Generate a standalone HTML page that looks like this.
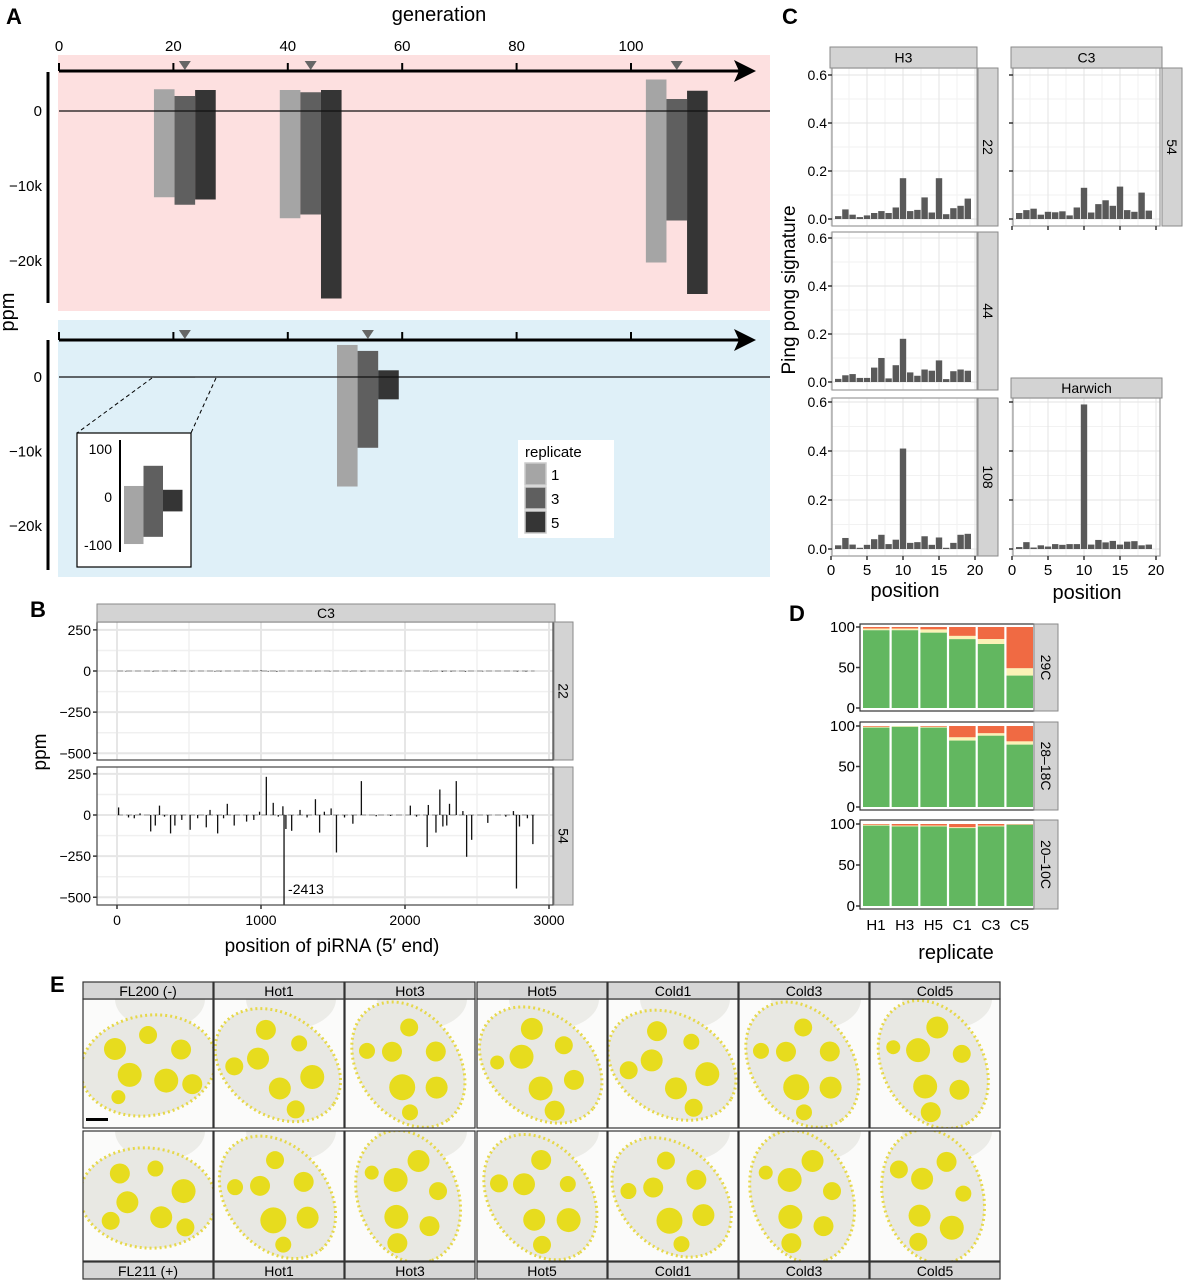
<!DOCTYPE html>
<html><head><meta charset="utf-8"><title>Figure</title>
<style>
html,body{margin:0;padding:0;background:#fff;}
svg{display:block;font-family:"Liberation Sans",sans-serif;}
</style></head>
<body>
<svg id="fig" width="1183" height="1280" viewBox="0 0 1183 1280" xmlns="http://www.w3.org/2000/svg">
<defs><clipPath id="clipB2"><rect x="97" y="767" width="456" height="138"/></clipPath></defs>
<text x="6" y="24" font-size="22" font-weight="bold">A</text>
<text x="30" y="617" font-size="22" font-weight="bold">B</text>
<text x="782" y="24" font-size="22" font-weight="bold">C</text>
<text x="789" y="621" font-size="22" font-weight="bold">D</text>
<text x="50" y="992" font-size="22" font-weight="bold">E</text>
<g id="gA"></g>
<g id="gB"></g>
<g id="gC"></g>
<g id="gD"></g>
<g id="gE"></g>
</svg>
<script>
// ---------- Panel A data (values in thousands of ppm) ----------
const aTopGens = [22, 44, 108];
const aTopR1Hi = [2.9, 2.8, 4.2];
const aTopR1Lo = [-11.5, -14.3, -20.2];
const aTopR3Hi = [2.0, 2.5, 1.6];
const aTopR3Lo = [-12.5, -13.8, -14.6];
const aTopR5Hi = [2.8, 2.8, 2.7];
const aTopR5Lo = [-11.8, -25.0, -24.4];
const aBotGens = [22, 54];
const aBotR1Hi = [0.023, 4.3];
const aBotR1Lo = [-0.098, -14.7];
const aBotR3Hi = [0.065, 3.5];
const aBotR3Lo = [-0.083, -9.5];
const aBotR5Hi = [0.015, 0.9];
const aBotR5Lo = [-0.03, -3.0];
const insetHi = [23, 65, 15];
const insetLo = [-98, -83, -30];
const genTicks = [0, 20, 40, 60, 80, 100];
const ppmTicksK = [0, -10, -20];
const ppmTickLabels = ["0", "\u221210k", "\u221220k"];
const insetTicks = [100, 0, -100];
const replicateNames = ["1", "3", "5"];
// ---------- Panel C data ----------
const positions = [1,2,3,4,5,6,7,8,9,10,11,12,13,14,15,16,17,18,19];
const h3g22 = [0.012,0.04,0.018,0.008,0.015,0.025,0.033,0.025,0.048,0.17,0.033,0.038,0.09,0.027,0.17,0.02,0.045,0.055,0.085];
const h3g44 = [0.013,0.028,0.033,0.017,0.017,0.06,0.1,0.015,0.07,0.18,0.04,0.026,0.052,0.047,0.09,0.012,0.045,0.052,0.047];
const h3g108 = [0.015,0.045,0.018,0.005,0.017,0.04,0.058,0.02,0.038,0.41,0.025,0.028,0.052,0.017,0.047,0.005,0.025,0.058,0.062];
const c3g54 = [0.025,0.037,0.043,0.018,0.03,0.028,0.032,0.015,0.048,0.13,0.027,0.062,0.078,0.055,0.135,0.037,0.03,0.11,0.035];
const harwich = [0.008,0.028,0.006,0.015,0.01,0.02,0.017,0.02,0.02,0.59,0.018,0.037,0.027,0.033,0.018,0.03,0.032,0.015,0.018];
const pingTicks = [0, 0.2, 0.4, 0.6];
const posTicks = [0, 5, 10, 15, 20];
// ---------- Panel B data ----------
const bPos22 = [60,250,400,520,680,720,1000,1050,1110,1380,1480,1620,1700,2180,2260,2320,2420,2540,2780,2840];
const bVal22 = [-2,-3,3,-2,-3,-2,4,-3,-4,-2,-2,-2,-2,-3,-4,-3,-4,-2,-3,-3];
const bPos54 = [11,80,120,160,234,266,295,330,372,402,450,508,560,620,646,699,740,766,814,900,950,990,1037,1085,1120,1152,1160,1173,1213,1271,1320,1378,1407,1440,1487,1524,1580,1638,1697,1800,1900,2037,2080,2154,2162,2215,2242,2263,2290,2309,2356,2402,2428,2463,2575,2700,2753,2774,2795,2850,2888];
const bVal54 = [46,-15,-20,10,-100,-64,57,-10,-112,-64,-30,-90,-20,-75,31,-112,-20,68,-64,-40,-30,20,232,74,-10,53,-545,-85,-96,31,-15,96,-107,20,40,-228,-15,-53,206,-8,-6,57,-10,-195,61,-107,155,-70,-64,68,206,24,-254,-151,-48,-10,24,-447,-70,-20,-177];
const bYTicks = [250, 0, -250, -500];
const bXTicks = [0, 1000, 2000, 3000];
// ---------- Panel D data ----------
const dReplicates = ["H1","H3","H5","C1","C3","C5"];
const dGreen29 = [96,96,93,85,79,40];
const dYellow29 = [2,2,4,4,6,9];
const dGreen28 = [98,99,98,82,88,77];
const dYellow28 = [1,1,1,4,3,4];
const dGreen20 = [98,97,97,95,97,99];
const dYellow20 = [1,1,1,1,1,0.5];
const dTicks = [0, 50, 100];
// ---------- Panel E ----------
const eTopLabels = ["FL200 (-)","Hot1","Hot3","Hot5","Cold1","Cold3","Cold5"];
const eBotLabels = ["FL211 (+)","Hot1","Hot3","Hot5","Cold1","Cold3","Cold5"];

const NS = 'http://www.w3.org/2000/svg';
function mk(tag, parent, attrs, txt){
  const e = document.createElementNS(NS, tag);
  for (const k in attrs) e.setAttribute(k, attrs[k]);
  if (txt !== undefined) e.textContent = txt;
  parent.appendChild(e);
  return e;
}
const gA = document.getElementById('gA');
const gB = document.getElementById('gB');
const gC = document.getElementById('gC');
const gD = document.getElementById('gD');
const gE = document.getElementById('gE');
const repColors = ['#a5a5a5','#5f5f5f','#353535'];

// ================= Panel A =================
const xA = g => 59 + 5.72 * g;
const yAt = v => 111 - 7.5 * v;
const yAb = v => 377 - 7.45 * v;
let t;
t = mk('rect', gA, {x:58,y:55,width:712,height:256,fill:'#fde0e0'});


t = mk('rect', gA, {x:58,y:320,width:712,height:257,fill:'#dff0f8'});


t = mk('text', gA, {x:439,y:21,'font-size':20,'text-anchor':'middle'}, 'generation');


genTicks.forEach(g => {
  t = mk('text', gA, {x:xA(g),y:51,'font-size':15,'text-anchor':'middle'}, String(g));
  
  
});
[71, 340].forEach((ay, idx) => {
  t = mk('line', gA, {x1:59,y1:ay,x2:740,y2:ay,stroke:'#000','stroke-width':3});
  
  
  t = mk('polygon', gA, {points:`734,${ay-11} 756,${ay} 734,${ay+11} 739,${ay}`,fill:'#000'});
  
  
  genTicks.forEach(g => {
    t = mk('line', gA, {x1:xA(g),y1:ay-8,x2:xA(g),y2:ay,stroke:'#000','stroke-width':2});
    
    
  });
});
function tri(g, ay){
  const x = xA(g);
  t = mk('polygon', gA, {points:`${x-6},${ay-10} ${x+6},${ay-10} ${x},${ay-1}`,fill:'#666'});
  
  
}
aTopGens.forEach(g => tri(g, 71));
aBotGens.forEach(g => tri(g, 340));
[[72,303],[340,570]].forEach(r => {
  t = mk('line', gA, {x1:48,y1:r[0],x2:48,y2:r[1],stroke:'#000','stroke-width':3});
  
  
});
ppmTicksK.forEach((v, i) => {
  t = mk('text', gA, {x:42,y:yAt(v)+5,'font-size':15,'text-anchor':'end'}, ppmTickLabels[i]);
  
  
  t = mk('text', gA, {x:42,y:yAb(v)+5,'font-size':15,'text-anchor':'end'}, ppmTickLabels[i]);
  
  
});
t = mk('text', gA, {x:0,y:0,'font-size':20,'text-anchor':'middle',transform:'translate(14,312) rotate(-90)'}, 'ppm');


const bw = 3.6;
function drawA(gens, his, los, yf, r){
  gens.forEach((g, i) => {
    const x = xA(g + (r - 1.5) * bw);
    const y1 = yf(his[i]), y2 = yf(los[i]);
    t = mk('rect', gA, {x:x,y:y1,width:5.72*bw,height:Math.max(0.5,y2-y1),fill:repColors[r]});
    
    
  });
}
drawA(aTopGens, aTopR1Hi, aTopR1Lo, yAt, 0);
drawA(aTopGens, aTopR3Hi, aTopR3Lo, yAt, 1);
drawA(aTopGens, aTopR5Hi, aTopR5Lo, yAt, 2);
drawA(aBotGens, aBotR1Hi, aBotR1Lo, yAb, 0);
drawA(aBotGens, aBotR3Hi, aBotR3Lo, yAb, 1);
drawA(aBotGens, aBotR5Hi, aBotR5Lo, yAb, 2);
t = mk('line', gA, {x1:59,y1:yAt(0),x2:770,y2:yAt(0),stroke:'#111','stroke-width':1.2});


t = mk('line', gA, {x1:59,y1:yAb(0),x2:770,y2:yAb(0),stroke:'#111','stroke-width':1.2});


t = mk('line', gA, {x1:152,y1:378,x2:77,y2:433,stroke:'#000','stroke-dasharray':'4,3'});


t = mk('line', gA, {x1:216,y1:378,x2:191,y2:433,stroke:'#000','stroke-dasharray':'4,3'});


t = mk('rect', gA, {x:77,y:433,width:114,height:134,fill:'#fff',stroke:'#000','stroke-width':1.2});


const yIn = v => 497 - 0.48 * v;
t = mk('line', gA, {x1:120,y1:440,x2:120,y2:552,stroke:'#000','stroke-width':2});


insetTicks.forEach(v => {
  t = mk('text', gA, {x:112,y:yIn(v)+5,'font-size':14,'text-anchor':'end'}, String(v));
  
  
});
insetHi.forEach((h, i) => {
  t = mk('rect', gA, {x:124+19.5*i,y:yIn(h),width:19.5,height:yIn(insetLo[i])-yIn(h),fill:repColors[i]});
  
  
});
t = mk('rect', gA, {x:518,y:440,width:96,height:98,fill:'#fff'});


t = mk('text', gA, {x:525,y:457,'font-size':15}, 'replicate');


replicateNames.forEach((n, i) => {
  t = mk('rect', gA, {x:525,y:463+24*i,width:21,height:22,fill:repColors[i],stroke:'#ccc','stroke-width':1.5});
  
  
  t = mk('text', gA, {x:551,y:480+24*i,'font-size':15}, n);
  
  
});

// ================= Panel C =================
function strip(parent, x, y, w, h, label, vertical){
  t = mk('rect', parent, {x:x,y:y,width:w,height:h,fill:'#d3d3d3',stroke:'#8a8a8a','stroke-width':1});
  
  
  if (vertical) {
    t = mk('text', parent, {x:0,y:0,'font-size':14,'text-anchor':'middle',transform:`translate(${x+w/2-5},${y+h/2}) rotate(90)`}, label);
  } else {
    t = mk('text', parent, {x:x+w/2,y:y+h/2+5,'font-size':14,'text-anchor':'middle'}, label);
  }
  
  
}
function pingPanel(px, py, pw, ph, y0, y6, vals, showX, showXTicks){
  const xs = p => px - 1 + 7.2 * p;
  const ys = v => y0 - (y0 - y6) * v / 0.6;
  t = mk('rect', gC, {x:px,y:py,width:pw,height:ph,fill:'#fff'});
  
  
  [0.1,0.3,0.5].forEach(v => { t = mk('line', gC, {x1:px,x2:px+pw,y1:ys(v),y2:ys(v),stroke:'#f2f2f2'});   });
  [2.5,7.5,12.5,17.5].forEach(p => { t = mk('line', gC, {x1:xs(p),x2:xs(p),y1:py,y2:py+ph,stroke:'#f2f2f2'});   });
  pingTicks.forEach(v => { t = mk('line', gC, {x1:px,x2:px+pw,y1:ys(v),y2:ys(v),stroke:'#e3e3e3'});   });
  posTicks.forEach(p => { t = mk('line', gC, {x1:xs(p),x2:xs(p),y1:py,y2:py+ph,stroke:'#e3e3e3'});   });
  positions.forEach((p, i) => {
    t = mk('rect', gC, {x:xs(p)-3.2,y:ys(vals[i]),width:6.4,height:ys(0)-ys(vals[i]),fill:'#595959'});
    
    
  });
  t = mk('rect', gC, {x:px,y:py,width:pw,height:ph,fill:'none',stroke:'#9a9a9a','stroke-width':1.2});
  
  
  pingTicks.forEach(v => {
    t = mk('line', gC, {x1:px-4,x2:px,y1:ys(v),y2:ys(v),stroke:'#333','stroke-width':1.5});
    
    
    if (px < 900) {
      t = mk('text', gC, {x:px-5,y:ys(v)+5,'font-size':14,'text-anchor':'end'}, v.toFixed(1));
      
      
    }
  });
  if (showXTicks) posTicks.forEach(p => {
    t = mk('line', gC, {x1:xs(p),x2:xs(p),y1:py+ph,y2:py+ph+4,stroke:'#333','stroke-width':1.5});
    
    
    if (showX) {
      t = mk('text', gC, {x:xs(p),y:py+ph+19,'font-size':15,'text-anchor':'middle'}, String(p));
      
      
    }
  });
}
pingPanel(832, 68, 145, 158, 219, 75, h3g22, false, false);
pingPanel(832, 232, 145, 158, 382, 238, h3g44, false, false);
pingPanel(832, 398, 145, 158, 549, 402, h3g108, true, true);
pingPanel(1013, 68, 147, 158, 219, 75, c3g54, false, true);
pingPanel(1013, 398, 147, 158, 549, 402, harwich, true, true);
strip(gC, 830, 47, 147, 21, 'H3', false);
strip(gC, 1011, 47, 151, 21, 'C3', false);
strip(gC, 1011, 378, 151, 20, 'Harwich', false);
strip(gC, 978, 68, 20, 158, '22', true);
strip(gC, 978, 232, 20, 158, '44', true);
strip(gC, 978, 398, 20, 158, '108', true);
strip(gC, 1162, 68, 20, 158, '54', true);
t = mk('text', gC, {x:0,y:0,'font-size':19,'text-anchor':'middle',transform:'translate(795,290) rotate(-90)'}, 'Ping pong signature');


t = mk('text', gC, {x:905,y:597,'font-size':20,'text-anchor':'middle'}, 'position');


t = mk('text', gC, {x:1087,y:599,'font-size':20,'text-anchor':'middle'}, 'position');



// ================= Panel B =================
const xB = p => 117 + 0.1440 * p;
function bPanel(py, y0, pos, vals, clip){
  const yb = v => y0 - 0.1645 * v;
  t = mk('rect', gB, {x:97,y:py,width:456,height:138,fill:'#fff'});
  
  
  [125,-125,-375].forEach(v => { t = mk('line', gB, {x1:97,x2:553,y1:yb(v),y2:yb(v),stroke:'#f0f0f0','stroke-width':1.5});   });
  [500,1500,2500].forEach(p => { t = mk('line', gB, {x1:xB(p),x2:xB(p),y1:py,y2:py+138,stroke:'#f0f0f0','stroke-width':1.5});   });
  bYTicks.forEach(v => {
    t = mk('line', gB, {x1:97,x2:553,y1:yb(v),y2:yb(v),stroke:'#e6e6e6','stroke-width':2});
    
    
    t = mk('line', gB, {x1:93,x2:97,y1:yb(v),y2:yb(v),stroke:'#333','stroke-width':1.5});
    
    
    t = mk('text', gB, {x:91,y:yb(v)+5,'font-size':14,'text-anchor':'end'}, v < 0 ? '\u2212' + (-v) : String(v));
    
    
  });
  bXTicks.forEach(p => { t = mk('line', gB, {x1:xB(p),x2:xB(p),y1:py,y2:py+138,stroke:'#e6e6e6','stroke-width':2});   });
  const g = mk('g', gB, clip ? {'clip-path':'url(#clipB2)'} : {});
  
  
  t = mk('line', g, {x1:xB(0),x2:xB(2900),y1:y0,y2:y0,stroke:'#555','stroke-width':0.6,'stroke-dasharray':'6,3'});
  
  
  pos.forEach((p, i) => {
    t = mk('line', g, {x1:xB(p),x2:xB(p),y1:y0,y2:yb(vals[i]),stroke:'#111','stroke-width':1.3});
    
    
  });
  t = mk('rect', gB, {x:97,y:py,width:456,height:138,fill:'none',stroke:'#444','stroke-width':1.2});
  
  
}
bPanel(622, 671, bPos22, bVal22, false);
bPanel(767, 815, bPos54, bVal54, true);
strip(gB, 97, 604, 458, 18, 'C3', false);
strip(gB, 554, 622, 19, 138, '22', true);
strip(gB, 554, 767, 19, 138, '54', true);
t = mk('text', gB, {x:xB(1160)+4,y:894,'font-size':14}, '-2413');


bXTicks.forEach(p => {
  t = mk('line', gB, {x1:xB(p),x2:xB(p),y1:905,y2:909,stroke:'#333','stroke-width':1.5});
  
  
  t = mk('text', gB, {x:xB(p),y:925,'font-size':14,'text-anchor':'middle'}, String(p));
  
  
});
t = mk('text', gB, {x:0,y:0,'font-size':19,'text-anchor':'middle',transform:'translate(46,752) rotate(-90)'}, 'ppm');


t = mk('text', gB, {x:332,y:952,'font-size':19,'text-anchor':'middle'}, 'position of piRNA (5\u2032 end)');



// ================= Panel D =================
const xD = i => 862 + 28.7 * i;
function dPanel(py, y0, y100, greens, yellows, label){
  const yd = v => y0 - (y0 - y100) * v / 100;
  t = mk('rect', gD, {x:860,y:py,width:174,height:y0-py+3,fill:'#fff',stroke:'#333','stroke-width':1.2});
  
  
  dReplicates.forEach((r, i) => {
    const x = xD(i) + 1, w = 26.5;
    const gTop = yd(greens[i]), yTop = yd(greens[i] + yellows[i]);
    t = mk('rect', gD, {x:x,y:yd(100),width:w,height:yTop-yd(100),fill:'#f06a43'});
    
    
    t = mk('rect', gD, {x:x,y:yTop,width:w,height:gTop-yTop,fill:'#fbf2b6'});
    
    
    t = mk('rect', gD, {x:x,y:gTop,width:w,height:y0-gTop,fill:'#62b760'});
    
    
  });
  dTicks.forEach(v => {
    t = mk('line', gD, {x1:856,x2:860,y1:yd(v),y2:yd(v),stroke:'#333','stroke-width':1.5});
    
    
    t = mk('text', gD, {x:855,y:yd(v)+5,'font-size':15,'text-anchor':'end'}, String(v));
    
    
  });
  strip(gD, 1034, py, 24, y0-py+3, label, true);
}
dPanel(624, 708, 627, dGreen29, dYellow29, '29C');
dPanel(722, 807, 726, dGreen28, dYellow28, '28\u201318C');
dPanel(820, 906, 824, dGreen20, dYellow20, '20\u201310C');
dReplicates.forEach((r, i) => {
  t = mk('text', gD, {x:xD(i)+14,y:930,'font-size':15,'text-anchor':'middle'}, r);
  
  
});
t = mk('text', gD, {x:956,y:959,'font-size':20,'text-anchor':'middle'}, 'replicate');



// ================= Panel E =================
const eX = [83,214,345,477,608,739,870];
const eW = 130;
const nuclei = [[-30,-25,11],[5,-35,10],[35,-10,12],[-20,10,12],[15,25,13],[-35,35,9],[40,35,10]];
eTopLabels.forEach((lab, c) => {
  [[999,129],[1131,130]].forEach((row, r) => {
    const x = eX[c], y = row[0], h = row[1];
    const cid = 'ce' + c + '_' + r;
    const cp = mk('clipPath', gE, {id:cid});
    mk('rect', cp, {x:x,y:y,width:eW,height:h});
    const g = mk('g', gE, {'clip-path':`url(#${cid})`});
    
    
    mk('rect', g, {x:x,y:y,width:eW,height:h,fill:'#fbfbfa'});
    const cx = x + eW/2, cy = y + h/2;
    const rot = [-10,35,55,40,30,55,60][c] + r*15;
    mk('ellipse', g, {cx:cx+12,cy:cy-h/2,rx:45,ry:30,fill:'#ecece8'});
    mk('ellipse', g, {cx:cx,cy:cy+2,rx:68,ry:50,transform:`rotate(${rot} ${cx} ${cy})`,fill:'#e8e8e3',stroke:'#e6d84a','stroke-width':3,'stroke-dasharray':'2,3'});
    nuclei.forEach((n, k) => {
      const a = rot*Math.PI/180, nx = cx + n[0]*Math.cos(a) - n[1]*Math.sin(a)*0.8, ny = cy + n[0]*Math.sin(a) + n[1]*Math.cos(a)*0.8;
      mk('circle', g, {cx:nx,cy:ny,r:n[2]-((c+k+r)%3),fill:'#e7dc1e'});
    });
    t = mk('rect', gE, {x:x,y:y,width:eW,height:h,fill:'none',stroke:'#333','stroke-width':1.2});
    
    
  });
  t = mk('rect', gE, {x:eX[c],y:982,width:eW,height:17,fill:'#d6d6d6',stroke:'#333','stroke-width':1.2});
  
  
  t = mk('text', gE, {x:eX[c]+eW/2,y:996,'font-size':14,'text-anchor':'middle'}, lab);
  
  
  t = mk('rect', gE, {x:eX[c],y:1262,width:eW,height:17,fill:'#d6d6d6',stroke:'#333','stroke-width':1.2});
  
  
  t = mk('text', gE, {x:eX[c]+eW/2,y:1276,'font-size':14,'text-anchor':'middle'}, eBotLabels[c]);
  
  
});
t = mk('rect', gE, {x:86,y:1118,width:22,height:3,fill:'#000'});


</script>
</body></html>
